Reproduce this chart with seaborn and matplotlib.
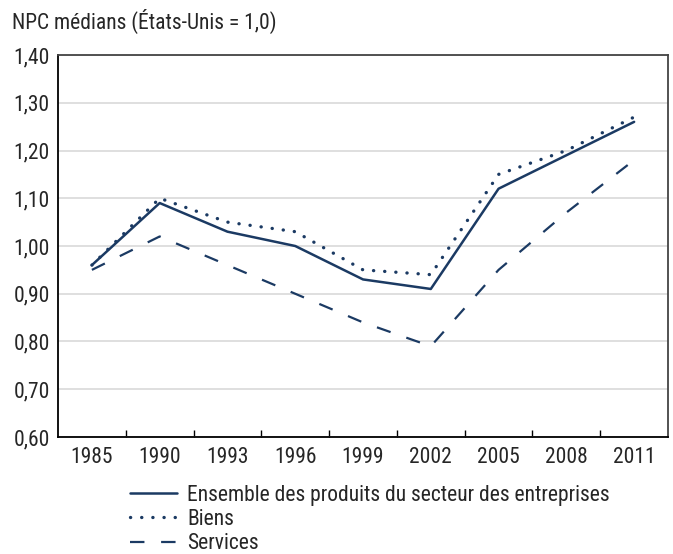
import matplotlib
matplotlib.use("Agg")
import matplotlib.pyplot as plt
import seaborn as sns
import pandas as pd
from matplotlib import font_manager
from matplotlib.lines import Line2D

years = ["1985", "1990", "1993", "1996", "1999", "2002", "2005", "2008", "2011"]
ensemble = [0.96, 1.09, 1.03, 1.00, 0.93, 0.91, 1.12, 1.19, 1.26]
biens = [0.96, 1.10, 1.05, 1.03, 0.95, 0.94, 1.15, 1.20, 1.27]
services = [0.95, 1.02, 0.96, 0.90, 0.84, 0.79, 0.95, 1.07, 1.18]
series_names = ["Ensemble des produits du secteur des entreprises", "Biens", "Services"]
y_ticks = [0.60, 0.70, 0.80, 0.90, 1.00, 1.10, 1.20, 1.30, 1.40]
title = "NPC médians (États-Unis = 1,0)"

sns.set_theme(style="white")
avail = {f.name for f in font_manager.fontManager.ttflist}
fam = [f for f in ["Liberation Sans Narrow", "Roboto Condensed", "Liberation Sans", "DejaVu Sans"] if f in avail]
plt.rcParams["font.family"] = fam

FS = 15.5
color = "#1b3a63"
df = pd.DataFrame({
    "year": years * 3,
    "value": ensemble + biens + services,
    "series": [series_names[0]] * 9 + [series_names[1]] * 9 + [series_names[2]] * 9,
})

fig = plt.figure(figsize=(6.73, 5.54), dpi=100)
ax = fig.add_axes([0.0862, 0.2112, 0.9064, 0.6895])
ax.yaxis.grid(True, color="#d9d9d9", linewidth=1.2)
ax.set_axisbelow(True)

sns.lineplot(data=df, x="year", y="value", hue="series", style="series",
             palette=[color] * 3, ax=ax, legend=False, sort=False)
styles = ["-", (0, (0.05, 3.3)), (0, (6.5, 7.5))]
widths = [1.8, 2.4, 1.6]
for ln, ls, lw in zip(ax.get_lines(), styles, widths):
    ln.set_linestyle(ls)
    ln.set_linewidth(lw)
    ln.set_dash_capstyle("round" if lw == 2.4 else "butt")
    ln.set_solid_capstyle("round")

ax.set_xlim(-0.5, 8.5)
ax.set_ylim(0.6, 1.4)
ax.set_yticks(y_ticks)
ax.set_yticklabels([f"{v:.2f}".replace(".", ",") for v in y_ticks], fontsize=FS)
ax.set_xticks(range(len(years)))
ax.set_xticklabels(years, fontsize=FS)
ax.set_xticks([i + 0.5 for i in range(len(years) - 1)], minor=True)
ax.tick_params(axis="x", which="major", length=0, pad=7)
ax.tick_params(axis="x", which="minor", direction="in", length=5, width=1, color="black", bottom=True)
ax.tick_params(axis="y", length=0, pad=6)
ax.set_xlabel("")
ax.set_ylabel("")
for s in ["left", "bottom"]:
    ax.spines[s].set_color("black")
    ax.spines[s].set_linewidth(1.3)
for s in ["top", "right"]:
    ax.spines[s].set_color("#444444")
    ax.spines[s].set_linewidth(1.3)

fig.text(0.018, 0.962, title, fontsize=FS, ha="left", va="center")

handles = [Line2D([], [], color=color, linestyle=ls, linewidth=lw,
                  dash_capstyle=("round" if lw == 2.4 else "butt")) for ls, lw in zip(styles, widths)]
fig.legend(handles, series_names, loc="upper left", bbox_to_anchor=(0.193, 0.125),
           frameon=False, fontsize=FS, handlelength=2.2, handletextpad=0.47,
           labelspacing=0.15, borderpad=0, borderaxespad=0)

fig.savefig("out.png", dpi=100)
